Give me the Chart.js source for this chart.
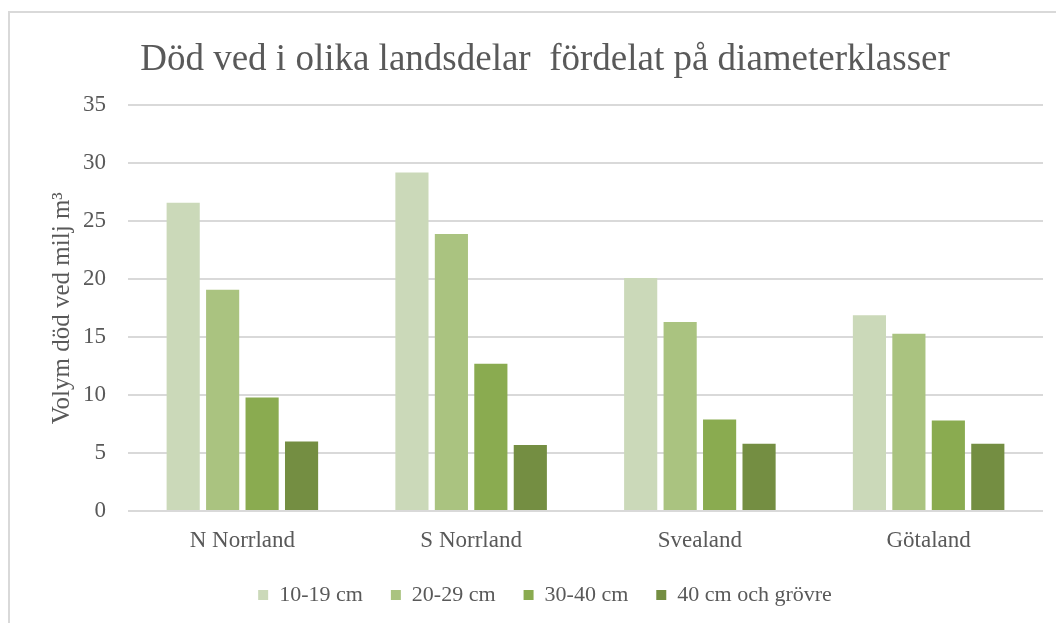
<!DOCTYPE html>
<html>
<head>
<meta charset="utf-8">
<script src="https://cdn.jsdelivr.net/npm/chart.js@4/dist/chart.umd.min.js"></script>
<style>
  html, body { margin: 0; padding: 0; background: #fff; }
  #wrap { width: 1056px; height: 623px; position: relative; }
</style>
</head>
<body>
<div id="wrap"><canvas id="dodVedChart"></canvas></div>
<script>
// Data
const regions = ['N Norrland', 'S Norrland', 'Svealand', 'Götaland'];
const seriesNames = ['10-19 cm', '20-29 cm', '30-40 cm', '40 cm och grövre'];
const d10_19 = [26.6, 29.2, 20.1, 16.9];
const d20_29 = [19.1, 23.9, 16.3, 15.3];
const d30_40 = [9.8, 12.7, 7.9, 7.8];
const d40plus = [6.0, 5.7, 5.8, 5.8];
const yTicks = [0, 5, 10, 15, 20, 25, 30, 35];

const colors = ['#cbd9b9', '#aac380', '#8aab50', '#748e42'];
const textColor = '#595959';
const serif = "'Liberation Serif', 'Times New Roman', serif";

// frame lines (top + left edge of the chart box)
const framePlugin = {
    id: 'frame',
    beforeDraw(chart) {
        const ctx = chart.ctx;
        ctx.save();
        ctx.strokeStyle = '#d9d9d9';
        ctx.lineWidth = 2;
        ctx.beginPath();
        ctx.moveTo(9, 623);
        ctx.lineTo(9, 12);
        ctx.lineTo(1056, 12);
        ctx.stroke();
        ctx.restore();
    }
};

// legend keeps wide item spacing but a fixed height
const legendHeightPlugin = {
    id: 'legendHeight',
    afterInit(chart) {
        const lg = chart.legend;
        if (!lg) return;
        const origFit = lg.fit.bind(lg);
        lg.fit = function () {
            origFit();
            this.height = 67;
        };
    }
};

const values = [d10_19, d20_29, d30_40, d40plus];

const chartData = {
    labels: regions,
    datasets: seriesNames.map((name, i) => ({
        label: name,
        data: values[i],
        backgroundColor: colors[i],
        borderWidth: 0,
        categoryPercentage: 0.69,
        barPercentage: 0.84
    }))
};

const config = {
    type: 'bar',
    data: chartData,
    plugins: [framePlugin, legendHeightPlugin],
    options: {
        responsive: true,
        maintainAspectRatio: false,
        animation: false,
        layout: {
            padding: { left: 47, right: 13, top: 0, bottom: 0 }
        },
        plugins: {
            title: {
                display: true,
                text: 'Död ved i olika landsdelar  fördelat på diameterklasser',
                color: textColor,
                font: { family: serif, size: 37, weight: 'normal' },
                padding: { top: 38, bottom: 23 }
            },
            legend: {
                position: 'bottom',
                labels: {
                    color: textColor,
                    font: { family: serif, size: 22 },
                    boxWidth: 10,
                    boxHeight: 10,
                    padding: 28
                }
            },
            tooltip: { enabled: false }
        },
        scales: {
            x: {
                grid: { display: false, drawTicks: false },
                border: { display: false },
                ticks: {
                    color: textColor,
                    font: { family: serif, size: 23 },
                    padding: 16
                },
                afterFit(scale) { scale.height = 45; }
            },
            y: {
                min: 0,
                max: 35,
                afterBuildTicks(scale) {
                    scale.ticks = yTicks.map(v => ({ value: v }));
                },
                grid: { color: '#d9d9d9', lineWidth: 2, drawTicks: false },
                border: { display: false },
                ticks: {
                    color: textColor,
                    font: { family: serif, size: 23 },
                    padding: 22
                },
                title: {
                    display: true,
                    text: 'Volym död ved milj m³',
                    color: textColor,
                    font: { family: serif, size: 25 },
                    padding: { top: 0, bottom: 0 }
                },
                afterFit(scale) { scale.width = 81; }
            }
        }
    }
};

new Chart(document.getElementById('dodVedChart'), config);
</script>
</body>
</html>
